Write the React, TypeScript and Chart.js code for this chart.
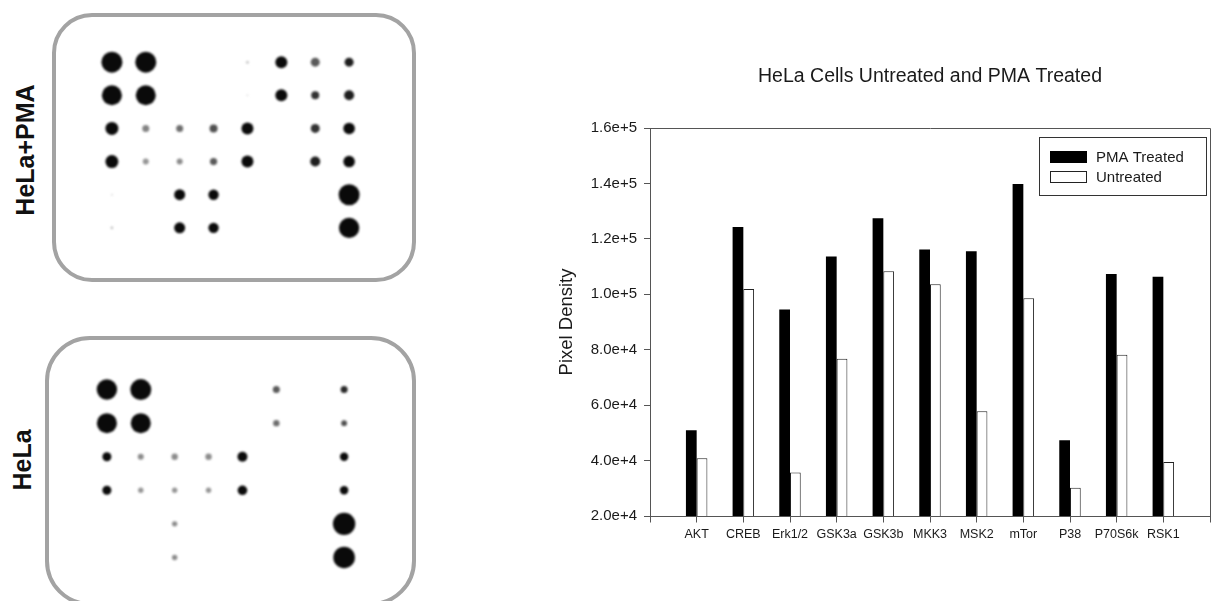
import React, { useEffect, useRef } from 'react';
import { Chart, registerables } from 'chart.js';

Chart.register(...registerables);

// ---------- Bar chart data ----------
const categories = ['AKT', 'CREB', 'Erk1/2', 'GSK3a', 'GSK3b', 'MKK3', 'MSK2', 'mTor', 'P38', 'P70S6k', 'RSK1'];
const pmaTreated = [50900, 124300, 94500, 113600, 127400, 116200, 115500, 139800, 47300, 107300, 106300];
const untreated = [40800, 101900, 35700, 76700, 108300, 103600, 57800, 98600, 30200, 78200, 39500];
const seriesLabels = ['PMA Treated', 'Untreated'];
const chartTitle = 'HeLa Cells Untreated and PMA Treated';
const yAxisTitle = 'Pixel Density';
const yMin = 20000;
const yMax = 160000;
const yStep = 20000;

// ---------- Dot blot data (6 rows x 8 columns; radius 0 = no spot, shade = grey level) ----------
const pmaSpotRadius = [
  [10.5, 10.5, 0, 0, 1.5, 6, 4.5, 4.5],
  [10, 10, 0, 0, 1, 6, 4, 5],
  [6.5, 3.5, 3.5, 4, 6, 0, 4.5, 5.8],
  [6.5, 3, 3, 3.6, 6, 0, 5, 5.8],
  [1, 0, 5.5, 5.2, 0, 0, 0, 10.5],
  [1.3, 0, 5.5, 5.2, 0, 0, 0, 10.2],
];
const pmaSpotShade = [
  [10, 10, 0, 0, 200, 10, 90, 30],
  [10, 10, 0, 0, 225, 10, 50, 30],
  [10, 130, 110, 80, 10, 0, 50, 10],
  [10, 150, 140, 90, 10, 0, 30, 10],
  [220, 0, 10, 10, 0, 0, 0, 10],
  [190, 0, 10, 10, 0, 0, 0, 10],
];
const helaSpotRadius = [
  [10.2, 10.5, 0, 0, 0, 3.5, 0, 3.5],
  [10, 10, 0, 0, 0, 3.2, 0, 2.9],
  [4.5, 3, 3.2, 3.2, 5, 0, 0, 4.2],
  [4.5, 2.7, 2.7, 2.7, 4.8, 0, 0, 4.2],
  [0, 0, 2.7, 0, 0, 0, 0, 11.2],
  [0, 0, 2.7, 0, 0, 0, 0, 10.8],
];
const helaSpotShade = [
  [10, 10, 0, 0, 0, 90, 0, 40],
  [10, 10, 0, 0, 0, 110, 0, 80],
  [10, 140, 140, 140, 10, 0, 0, 10],
  [10, 150, 150, 150, 10, 0, 0, 10],
  [0, 0, 140, 0, 0, 0, 0, 10],
  [0, 0, 140, 0, 0, 0, 0, 10],
];

const FONT = "'Liberation Sans', Arial, Helvetica, sans-serif";

function BarChart() {
  const ref = useRef<HTMLCanvasElement>(null);
  useEffect(() => {
    const canvas = ref.current;
    if (!canvas) return;

    const axisColor = '#555';

    const plotFrame = {
      id: 'plotFrame',
      afterDraw(chart: any) {
        const { ctx, chartArea } = chart;
        const l = Math.round(chartArea.left) + 0.5;
        const t = Math.round(chartArea.top) + 0.5;
        const r = Math.round(chartArea.right) + 0.5;
        const b = Math.round(chartArea.bottom) + 0.5;
        ctx.save();
        ctx.strokeStyle = axisColor;
        ctx.lineWidth = 1;
        ctx.beginPath();
        ctx.moveTo(l, t);
        ctx.lineTo(r, t);
        ctx.lineTo(r, b);
        ctx.stroke();
        // x-axis tick marks at every category position (same pixel alignment as Chart.js)
        const xs = chart.scales.x;
        ctx.beginPath();
        xs.ticks.forEach((_: any, i: number) => {
          const px = Math.round(xs.getPixelForTick(i) - 0.5) + 0.5;
          ctx.moveTo(px, b);
          ctx.lineTo(px, b + 6);
        });
        ctx.stroke();
        ctx.restore();
      },
    };

    const boxLegend = {
      id: 'boxLegend',
      afterDraw(chart: any) {
        const { ctx, chartArea } = chart;
        const w = 167;
        const h = 58;
        const x0 = Math.round(chartArea.right - 4 - w);
        const y0 = Math.round(chartArea.top + 9);
        ctx.save();
        ctx.fillStyle = '#fff';
        ctx.fillRect(x0, y0, w, h);
        ctx.strokeStyle = '#333';
        ctx.lineWidth = 1;
        ctx.strokeRect(x0 + 0.5, y0 + 0.5, w, h);
        chart.data.datasets.forEach((ds: any, i: number) => {
          const sy = y0 + 14 + i * 20;
          ctx.fillStyle = ds.backgroundColor;
          ctx.fillRect(x0 + 11, sy, 37, 12);
          if (ds.borderWidth) {
            ctx.strokeStyle = ds.borderColor;
            ctx.lineWidth = 1;
            ctx.strokeRect(x0 + 11.5, sy + 0.5, 36, 11);
          }
          ctx.fillStyle = '#1a1a1a';
          ctx.font = `15px ${FONT}`;
          ctx.textBaseline = 'middle';
          ctx.textAlign = 'left';
          ctx.fillText(ds.label, x0 + 57, sy + 6.5);
        });
        ctx.restore();
      },
    };

    const chart = new Chart(canvas, {
      type: 'bar',
      data: {
        labels: ['', ...categories, ''],
        datasets: [
          {
            label: seriesLabels[0],
            data: [null, ...pmaTreated, null],
            backgroundColor: '#000',
            borderWidth: 0,
          },
          {
            label: seriesLabels[1],
            data: [null, ...untreated, null],
            backgroundColor: '#fff',
            borderColor: '#222',
            borderWidth: 1,
          },
        ],
      },
      options: {
        animation: false,
        responsive: false,
        events: [],
        layout: { padding: { left: 0, right: 15, top: 0, bottom: 0 } },
        datasets: { bar: { categoryPercentage: 0.46, barPercentage: 1 } },
        plugins: {
          legend: { display: false },
          tooltip: { enabled: false },
          title: {
            display: true,
            text: chartTitle,
            fullSize: false,
            color: '#1a1a1a',
            font: { family: FONT, size: 19.5, weight: 'normal' },
            padding: { top: 25.3, bottom: 39.3 },
          },
        },
        scales: {
          x: {
            type: 'category',
            offset: false,
            grid: {
              offset: false,
              drawOnChartArea: false,
              drawTicks: true,
              tickLength: 6,
              color: axisColor,
              lineWidth: 1,
            },
            border: { display: true, color: axisColor, width: 1 },
            ticks: {
              autoSkip: false,
              maxRotation: 0,
              minRotation: 0,
              padding: 5,
              color: '#1a1a1a',
              font: { family: FONT, size: 12.5 },
            },
            afterFit: (s: any) => {
              s.height = 44;
            },
          },
          y: {
            type: 'linear',
            min: yMin,
            max: yMax,
            grid: { drawOnChartArea: false, drawTicks: true, tickLength: 6, color: axisColor, lineWidth: 1 },
            border: { display: true, color: axisColor, width: 1 },
            ticks: {
              stepSize: yStep,
              padding: 7,
              color: '#1a1a1a',
              font: { family: FONT, size: 15 },
              callback: (v: any) => Number(v).toExponential(1),
            },
            title: {
              display: true,
              text: yAxisTitle,
              color: '#1a1a1a',
              font: { family: FONT, size: 18.5 },
              padding: { top: 25.9, bottom: 0 },
            },
            afterFit: (s: any) => {
              s.width = 120;
            },
          },
        },
      } as any,
      plugins: [plotFrame, boxLegend],
    });
    return () => chart.destroy();
  }, []);
  return (
    <canvas
      ref={ref}
      width={695}
      height={520}
      style={{ position: 'absolute', left: 530, top: 40, width: 695, height: 520 }}
    />
  );
}

type DotProps = {
  radius: number[][];
  shade: number[][];
  left: number;
  top: number;
  width: number;
  height: number;
};

function DotBlot({ radius, shade, left, top, width, height }: DotProps) {
  const ref = useRef<HTMLCanvasElement>(null);
  useEffect(() => {
    const canvas = ref.current;
    if (!canvas) return;
    const points: { x: number; y: number; r: number }[] = [];
    const colors: string[] = [];
    radius.forEach((row, ri) =>
      row.forEach((r, ci) => {
        if (r > 0) {
          points.push({ x: ci + 1, y: ri + 1, r });
          const g = shade[ri][ci];
          colors.push(`rgb(${g},${g},${g})`);
        }
      })
    );
    const chart = new Chart(canvas, {
      type: 'bubble',
      data: {
        datasets: [
          {
            data: points,
            backgroundColor: colors,
            borderWidth: 0,
            hoverRadius: 0,
          },
        ],
      },
      options: {
        animation: false,
        responsive: false,
        events: [],
        layout: { padding: 0, autoPadding: false },
        plugins: { legend: { display: false }, tooltip: { enabled: false }, title: { display: false } },
        scales: {
          x: { type: 'linear', min: 0, max: 9, display: false },
          y: { type: 'linear', min: 0, max: 7, reverse: true, display: false },
        },
      } as any,
    });
    return () => chart.destroy();
  }, [radius, shade]);
  return (
    <canvas
      ref={ref}
      width={width}
      height={height}
      style={{ position: 'absolute', left, top, width, height, filter: 'blur(0.8px)' }}
    />
  );
}

const sideLabel = (text: string, cx: number, cy: number) => (
  <div
    style={{
      position: 'absolute',
      left: cx,
      top: cy,
      transform: 'translate(-50%, -50%) rotate(-90deg)',
      font: `bold 25px ${FONT}`,
      color: '#111',
      whiteSpace: 'nowrap',
      lineHeight: 1,
    }}
  >
    {text}
  </div>
);

export default function App() {
  return (
    <div
      style={{
        position: 'absolute',
        left: 0,
        top: 0,
        width: 1225,
        height: 601,
        overflow: 'hidden',
        background: '#fff',
      }}
    >
      <div
        style={{
          position: 'absolute',
          left: 52,
          top: 13,
          width: 364,
          height: 269,
          boxSizing: 'border-box',
          border: '4px solid #a3a3a3',
          borderRadius: 40,
        }}
      />
      <div
        style={{
          position: 'absolute',
          left: 45,
          top: 336,
          width: 371,
          height: 270,
          boxSizing: 'border-box',
          border: '4px solid #a3a3a3',
          borderRadius: 45,
        }}
      />
      <DotBlot radius={pmaSpotRadius} shade={pmaSpotShade} left={78} top={29} width={305} height={232} />
      <DotBlot radius={helaSpotRadius} shade={helaSpotShade} left={73} top={356} width={305} height={235} />
      {sideLabel('HeLa+PMA', 25, 150)}
      {sideLabel('HeLa', 22, 460)}
      <BarChart />
    </div>
  );
}
